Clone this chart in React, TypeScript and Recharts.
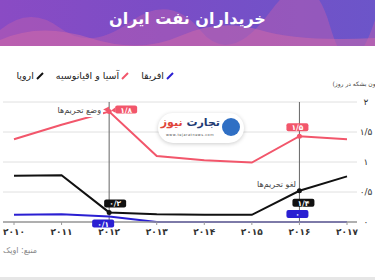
import React from 'react';
import { LineChart, Line, XAxis, YAxis, CartesianGrid, ReferenceLine, LabelList } from 'recharts';

const years = ['2010', '2011', '2012', '2013', '2014', '2015', '2016', '2017'];
const africa = [0.12, 0.13, 0.09, 0, 0, 0, 0, 0];
const asia = [1.38, 1.62, 1.84, 1.1, 1.03, 0.99, 1.43, 1.38];
const europe = [0.77, 0.78, 0.16, 0.13, 0.12, 0.12, 0.52, 0.76];
const yTicks = [0, 0.5, 1, 1.5, 2];
const sanctionYears = ['2012', '2016'];

const asiaLabels = ['', '', '۱/۸', '', '', '', '۱/۵', ''];
const europeLabels = ['', '', '۰/۲', '', '', '', '۱/۴', ''];
const africaLabels = ['', '', '۰/۱', '', '', '', '۰', ''];

const seriesNames = ['افریقا', 'آسیا و اقیانوسیه', 'اروپا'];

const data = years.map((year, i) => ({ year, africa: africa[i], asia: asia[i], europe: europe[i] }));

const FONT = '"DejaVu Sans", sans-serif';
const toFa = (v: string | number) =>
  String(v).replace(/\d/g, d => '۰۱۲۳۴۵۶۷۸۹'[+d]).replace('.', '/');

const PINK = '#f2566b';
const BLACK = '#111111';
const BLUE = '#2a1fd2';
const seriesColors = [BLUE, PINK, BLACK];

// box offsets relative to the point, per label index
const boxPos: { [key: string]: { [i: number]: [number, number] } } = {
  asia: { 2: [17, -2], 6: [-2, -9] },
  europe: { 2: [6, -9], 6: [4, 12] },
  africa: { 2: [-6, 7], 6: [-2, -8] },
};

function makeLabel(series: string, texts: string[], color: string) {
  return (props: any) => {
    const { x, y, index } = props;
    const t = texts[index];
    if (!t) return null;
    const [dx, dy] = boxPos[series][index];
    const w = 22;
    const h = 8;
    const cx = x + dx;
    const cy = y + dy;
    return (
      <g>
        {series === 'asia' && index === 2 && (
          <g>
            <rect x={58} y={104} width={45} height={13} fill="#fff" />
            <text x={101} y={113} textAnchor="end" fontSize={8} fill="#444" fontFamily={FONT}>وضع تحریم‌ها</text>
            <path d={`M${x - 6} ${y - 2} L${x} ${y - 5} L${x} ${y + 1} Z`} fill={color} />
            <path d={`M${cx - w / 2} ${cy - 2} L${cx - w / 2 - 4} ${cy + 1} L${cx - w / 2} ${cy + 3} Z`} fill={color} />
          </g>
        )}
        {series === 'europe' && index === 6 && (
          <text x={296} y={187} textAnchor="end" fontSize={8} fill="#444" fontFamily={FONT}>لغو تحریم‌ها</text>
        )}
        {series !== 'africa' && <circle cx={x} cy={y} r={2.5} fill={color} />}
        <rect x={cx - w / 2} y={cy - h / 2} width={w} height={h} rx={2} fill={color} />
        <text x={cx} y={cy + 3} textAnchor="middle" fontSize={7.5} fontWeight="bold" fill="#fff" fontFamily={FONT}>{t}</text>
      </g>
    );
  };
}

function YTick({ y, payload }: any) {
  return (
    <text x={366} y={y + 3} textAnchor="middle" fontSize={9} fill="#333" fontFamily={FONT}>
      {toFa(payload.value)}
    </text>
  );
}

export default function App() {
  return (
    <div style={{ position: 'fixed', top: 0, left: 0, width: 375, height: 280, background: '#fff', overflow: 'hidden' }}>
      <div style={{ position: 'absolute', top: 0, left: 0, width: 375, height: 46, background: 'linear-gradient(90deg, #8a4bc4 0%, #7a4dc6 45%, #6c55c9 100%)', overflow: 'hidden' }}>
        <svg width={375} height={46} style={{ position: 'absolute', top: 0, left: 0 }}>
          <path d="M0 30 Q30 5 60 28 T130 22 T200 30 T270 12 T330 26 T375 20 L375 46 L0 46 Z" fill="#c25fae" opacity={0.45} />
          <path d="M0 40 Q40 22 90 38 T180 36 T260 30 T375 38 L375 46 L0 46 Z" fill="#d269a8" opacity={0.5} />
        </svg>
        <div style={{ position: 'absolute', top: 9, left: 0, width: 375, textAlign: 'center', color: '#fff', fontFamily: FONT, fontWeight: 'bold', fontSize: 16 }}>
          خریداران نفت ایران
        </div>
      </div>

      <div style={{ position: 'absolute', top: 70, left: 12, width: 162, display: 'flex', direction: 'rtl', gap: 12, fontFamily: FONT, fontSize: 9.5, color: '#222', whiteSpace: 'nowrap' }}>
        {seriesNames.map((name, i) => (
          <div key={name} style={{ display: 'flex', alignItems: 'center', gap: 2 }}>
            <svg width={8} height={8}>
              <line x1={1} y1={7} x2={7} y2={1} stroke={seriesColors[i]} strokeWidth={2} />
            </svg>
            <span>{name}</span>
          </div>
        ))}
      </div>

      <div style={{ position: 'absolute', top: 80, right: -12, fontFamily: FONT, fontSize: 6, color: '#444', direction: 'rtl', whiteSpace: 'nowrap' }}>
        (میلیون بشکه در روز)
      </div>

      <div style={{ position: 'absolute', top: 113, left: 158, width: 86, height: 30, borderRadius: 15, background: '#fff', boxShadow: '0 1px 4px rgba(0,0,0,0.2)', zIndex: 2, fontFamily: FONT }}>
        <div style={{ position: 'absolute', right: 4, top: 5, width: 18, height: 18, borderRadius: 9, background: '#2f6fc4' }} />
        <div style={{ position: 'absolute', right: 24, top: 3, direction: 'rtl', fontSize: 11, fontWeight: 'bold', whiteSpace: 'nowrap' }}>
          <span style={{ color: '#1f3b73' }}>تجارت </span><span style={{ color: '#e0453a' }}>نیوز</span>
        </div>
        <div style={{ position: 'absolute', left: 8, top: 20, fontSize: 3.5, color: '#555', letterSpacing: 0.5 }}>www.tejaratnews.com</div>
      </div>

      <div style={{ position: 'absolute', top: 0, left: 0 }}>
        <LineChart width={375} height={280} data={data} margin={{ top: 102, right: 0, left: 3, bottom: 28 }}>
          <CartesianGrid vertical={false} stroke="#e0e0e0" />
          <XAxis
            dataKey="year"
            padding={{ left: 11, right: 10 }}
            tickFormatter={toFa}
            axisLine={{ stroke: '#9a9a9a', strokeWidth: 1.5 }}
            tickLine={{ stroke: '#9a9a9a' }}
            tickSize={3}
            tickMargin={4}
            tick={{ fontSize: 9, fill: '#333', fontWeight: 'bold', fontFamily: FONT }}
            height={30}
          />
          <YAxis orientation="right" width={18} domain={[0, 2]} ticks={yTicks} axisLine={false} tickLine={false} tick={<YTick />} />
          {sanctionYears.map(y => (
            <ReferenceLine key={y} x={y} stroke="#666" strokeWidth={1} />
          ))}
          <Line dataKey="africa" name={seriesNames[0]} stroke={BLUE} strokeWidth={2} dot={false} isAnimationActive={false}>
            <LabelList dataKey="africa" content={makeLabel('africa', africaLabels, BLUE)} />
          </Line>
          <Line dataKey="asia" name={seriesNames[1]} stroke={PINK} strokeWidth={2} dot={false} isAnimationActive={false}>
            <LabelList dataKey="asia" content={makeLabel('asia', asiaLabels, PINK)} />
          </Line>
          <Line dataKey="europe" name={seriesNames[2]} stroke={BLACK} strokeWidth={2} dot={false} isAnimationActive={false}>
            <LabelList dataKey="europe" content={makeLabel('europe', europeLabels, BLACK)} />
          </Line>
        </LineChart>
      </div>

      <div style={{ position: 'absolute', top: 246, left: 3, fontFamily: FONT, fontSize: 8, color: '#888', direction: 'rtl' }}>منبع: اوپک</div>
      <div style={{ position: 'absolute', top: 277, left: 0, width: 375, height: 3, background: '#e6e6e6' }} />
    </div>
  );
}
